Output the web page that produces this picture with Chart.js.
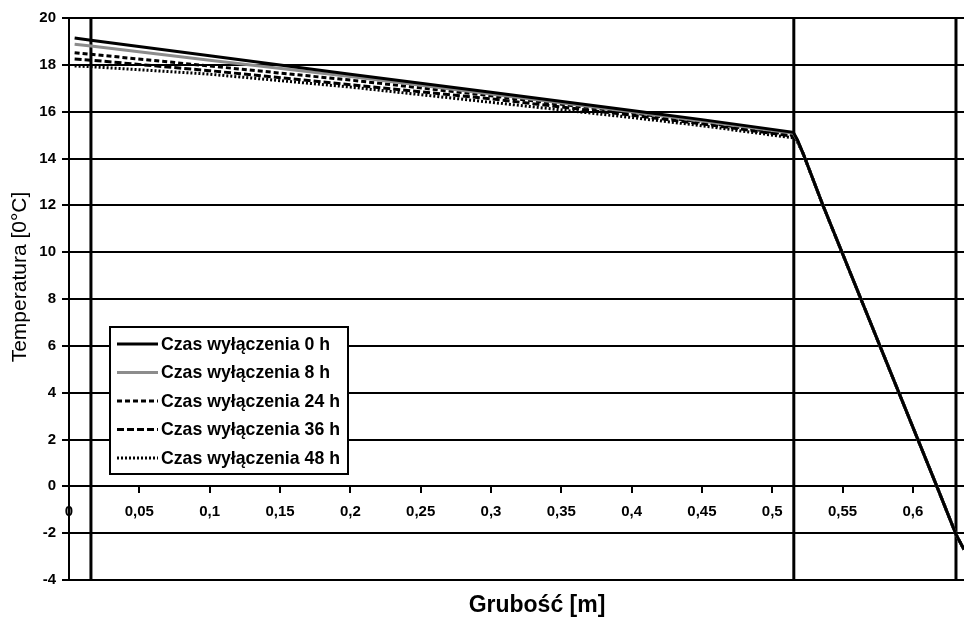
<!DOCTYPE html>
<html><head><meta charset="utf-8">
<script src="https://cdn.jsdelivr.net/npm/chart.js@4/dist/chart.umd.min.js"></script>
<style>html,body{margin:0;padding:0;background:#fff}canvas{display:block}</style>
</head><body>
<div style="width:964px;height:619px"><canvas id="c" width="964" height="619"></canvas></div>
<script>
// ---- data ----
const thickness = [0.004, 0.0156, 0.1, 0.2, 0.3, 0.4, 0.45, 0.515, 0.518, 0.522, 0.536, 0.617, 0.6306, 0.6363];
const seriesLabels = ['Czas wyłączenia 0 h', 'Czas wyłączenia 8 h', 'Czas wyłączenia 24 h', 'Czas wyłączenia 36 h', 'Czas wyłączenia 48 h'];
const temp0h  = [19.15, 19.05, 18.39, 17.60, 16.83, 16.05, 15.66, 15.12, 14.78, 14.2, 12.0, 0.0, -2.05, -2.7];
const temp8h  = [18.88, 18.80, 18.20, 17.50, 16.75, 16.00, 15.60, 15.08, 14.76, 14.2, 12.0, 0.0, -2.05, -2.7];
const temp24h = [18.52, 18.45, 17.95, 17.35, 16.68, 15.95, 15.55, 15.00, 14.74, 14.2, 12.0, 0.0, -2.05, -2.7];
const temp36h = [18.25, 18.20, 17.75, 17.15, 16.55, 15.85, 15.48, 14.95, 14.72, 14.2, 12.0, 0.0, -2.05, -2.7];
const temp48h = [17.95, 17.92, 17.60, 17.05, 16.40, 15.75, 15.40, 14.88, 14.70, 14.2, 12.0, 0.0, -2.05, -2.7];
const layerBoundaries = [0.0156, 0.5153, 0.6306];
const xTitle = 'Grubość [m]';
const yTitle = 'Temperatura [0°C]';

const FONT = '"Liberation Sans", Arial, sans-serif';
const seriesTemps = [temp0h, temp8h, temp24h, temp36h, temp48h];
const seriesStyle = [
  {color: '#000000', dash: []},
  {color: '#8c8c8c', dash: []},
  {color: '#000000', dash: [5, 3]},
  {color: '#000000', dash: [7, 3]},
  {color: '#000000', dash: [2, 2]}
];

const datasets = seriesTemps.map((arr, i) => ({
  label: seriesLabels[i],
  data: thickness.map((x, j) => ({x: x, y: arr[j]})),
  borderColor: seriesStyle[i].color,
  borderDash: seriesStyle[i].dash,
  borderWidth: 3,
  pointRadius: 0,
  tension: 0,
  fill: false,
  isSeries: true
}));
layerBoundaries.forEach(b => {
  datasets.push({
    label: 'granica',
    data: [{x: b, y: -4}, {x: b, y: 20}],
    borderColor: '#000',
    borderWidth: 3,
    pointRadius: 0,
    fill: false,
    isSeries: false
  });
});

const customDraw = {
  id: 'customDraw',
  afterDraw(chart) {
    const ctx = chart.ctx;
    ctx.save();
    // legend box
    const bx = 110, by = 327, bw = 238, bh = 147;
    ctx.fillStyle = '#fff';
    ctx.fillRect(bx, by, bw, bh);
    ctx.strokeStyle = '#000';
    ctx.lineWidth = 2;
    ctx.setLineDash([]);
    ctx.strokeRect(bx, by, bw, bh);
    ctx.font = 'bold 17.7px ' + FONT;
    ctx.textBaseline = 'middle';
    ctx.textAlign = 'left';
    chart.data.datasets.filter(d => d.isSeries).forEach((d, i) => {
      const yy = 344 + i * 28.5;
      ctx.beginPath();
      ctx.setLineDash(d.borderDash || []);
      ctx.strokeStyle = d.borderColor;
      ctx.lineWidth = 3;
      ctx.moveTo(117, yy);
      ctx.lineTo(158, yy);
      ctx.stroke();
      ctx.setLineDash([]);
      ctx.fillStyle = '#000';
      ctx.fillText(d.label, 161, yy + 1);
    });
    // axis titles
    ctx.fillStyle = '#000';
    ctx.textAlign = 'center';
    ctx.textBaseline = 'middle';
    ctx.font = 'bold 23px ' + FONT;
    ctx.fillText(xTitle, 537, 606);
    ctx.translate(20, 277);
    ctx.rotate(-Math.PI / 2);
    ctx.font = '21px ' + FONT;
    ctx.fillText(yTitle, 0, 0);
    ctx.restore();
  }
};

new Chart(document.getElementById('c'), {
  type: 'line',
  data: {datasets: datasets},
  options: {
    responsive: false,
    animation: false,
    devicePixelRatio: 1,
    layout: {padding: {top: 18, bottom: 39, left: 0, right: 0}},
    plugins: {legend: {display: false}, tooltip: {enabled: false}, title: {display: false}},
    scales: {
      x: {
        type: 'linear',
        min: 0,
        max: 0.6363,
        position: {y: 0},
        border: {display: true, color: '#000', width: 2},
        grid: {drawOnChartArea: false, drawTicks: true, tickLength: 6, color: '#000', lineWidth: 2},
        ticks: {
          stepSize: 0.05,
          includeBounds: false,
          autoSkip: false,
          maxRotation: 0,
          padding: 11,
          color: '#000',
          font: {family: FONT, size: 15, weight: 'bold'},
          callback: v => Number(v.toFixed(2)).toString().replace('.', ',')
        }
      },
      y: {
        type: 'linear',
        min: -4,
        max: 20,
        position: 'left',
        afterFit: s => { s.width = 69; },
        border: {display: true, color: '#000', width: 2},
        grid: {color: '#000', lineWidth: 2, drawTicks: true, tickLength: 7},
        ticks: {
          stepSize: 2,
          padding: 6,
          color: '#000',
          font: {family: FONT, size: 15, weight: 'bold'}
        }
      }
    }
  },
  plugins: [customDraw]
});
</script>
</body></html>
